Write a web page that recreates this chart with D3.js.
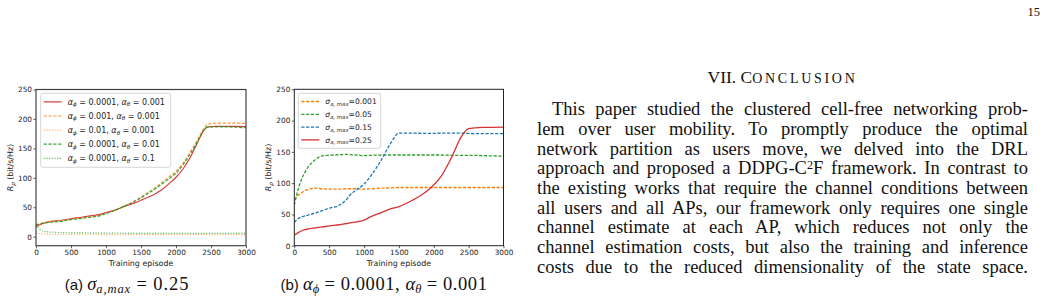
<!DOCTYPE html>
<html><head><meta charset="utf-8">
<script src="https://cdn.jsdelivr.net/npm/d3@7"></script>
<style>
html,body{margin:0;padding:0;background:#fff;}
#page{position:relative;width:1049px;height:305px;overflow:hidden;}
svg{position:absolute;left:0;top:0;}
.col{position:absolute;left:537px;width:491px;font-family:"Liberation Serif",serif;line-height:19.7px;color:#111;}
.col div{text-align:justify;text-align-last:justify;white-space:nowrap;height:19.7px;}
.head{position:absolute;left:537px;width:491px;text-align:center;font-family:"Liberation Serif",serif;color:#111;white-space:nowrap;line-height:1;font-size:17.5px;top:68.8px;}
.head span.sc{font-size:0.8em;}
.pn{position:absolute;right:9px;top:5px;font-family:"Liberation Serif",serif;font-size:12.5px;color:#111;}
.sup{position:relative;top:-0.42em;font-size:0.66em;line-height:1;}
</style></head>
<body><div id="page"></div>
<script>
// ---------------- data ----------------
const xTicks = [0, 500, 1000, 1500, 2000, 2500, 3000];
const yTicks = [0, 50, 100, 150, 200, 250];

// (a) sigma_a,max = 0.25 : episodes and rates
const epA = [0, 100, 200, 350, 500, 650, 800, 900, 1000, 1150, 1250, 1400, 1500, 1600, 1700, 1800, 1900, 2000, 2100, 2200, 2300, 2400, 2450, 2550, 2700, 2850, 3000];
const aRed    = [17, 22.5, 25.6, 27.5, 30.5, 33, 35.8, 37.5, 41, 46, 51, 57, 62, 67, 72.5, 80, 90, 101, 115, 134, 158, 181, 186.5, 187.5, 187.5, 187.5, 187];
const aOrgDsh = [19, 23.5, 25.5, 27, 29.5, 31.5, 34, 36, 40, 46, 51.5, 60, 67.5, 75, 83, 92, 101.5, 111, 125, 143, 163, 184, 191, 192.5, 193, 193, 192.5];
const aGrnDsh = [20, 23, 24.5, 26, 29, 31, 33.5, 35, 39.5, 46, 51, 59.5, 66, 73.5, 81, 89.5, 98.5, 108, 122, 140, 160, 181, 186, 186.5, 186.5, 186, 185];
const aOrgDot = [6, 4.6, 4.2, 4, 3.9, 3.8, 3.7, 3.7, 3.6, 3.6, 3.6, 3.5, 3.5, 3.5, 3.5, 3.5, 3.5, 3.5, 3.5, 3.5, 3.5, 3.5, 3.5, 3.5, 3.5, 3.5, 3.5];
const aGrnDot = [20, 9.5, 8, 7, 6.6, 6.4, 6.2, 6.1, 6, 5.9, 5.8, 5.8, 5.7, 5.7, 5.6, 5.6, 5.6, 5.5, 5.5, 5.5, 5.5, 5.5, 5.5, 5.5, 5.5, 5.5, 5.5];

// (b) alpha_phi = 0.0001, alpha_theta = 0.001
const epB = [0, 50, 100, 150, 200, 300, 400, 500, 650, 750, 800, 900, 1000, 1100, 1250, 1400, 1500, 1700, 1850, 2000, 2100, 2250, 2400, 2500, 2700, 3000];
const b001 = [73, 80, 84, 88, 90, 92, 91, 90.5, 90.5, 91, 91, 91, 90.5, 91, 92, 92.5, 93, 93, 93, 93, 93, 93, 93, 93, 93, 93];
const b005 = [65, 88, 105, 117, 126, 137.5, 143.5, 144.5, 145.5, 146, 145.5, 145, 144, 144.5, 145, 145, 145, 145, 145, 145, 145, 144.5, 144.5, 144.5, 144, 143];
const b015 = [37, 43, 46, 47.5, 49, 52, 56, 60, 65, 74, 81, 90, 98.5, 112, 137.5, 167, 180, 180, 179.5, 179.5, 180, 180, 180, 179.5, 179, 179];
const b025 = [17, 20.5, 23.5, 25.5, 26.8, 28.5, 30, 31.6, 33.5, 35.5, 36.5, 38, 41, 46.5, 53, 59.5, 62.6, 73, 83, 97, 110, 140, 175, 187, 189, 189.5];

const labelsA = [
  ["0.0001", "0.001"], ["0.001", "0.001"], ["0.01", "0.001"], ["0.0001", "0.01"], ["0.0001", "0.1"]
];
const labelsB = ["0.001", "0.05", "0.15", "0.25"];

// ---------------- drawing ----------------
const page = d3.select("#page");
const svg = page.append("svg").attr("width", 1049).attr("height", 305);

const C = {red: "#d62728", orange: "#ff7f0e", green: "#2ca02c", blue: "#1f77b4"};
const tickFont = "'DejaVu Sans', sans-serif";

function subText(t, s, size, shift, italic) {
  t.append("tspan").attr("font-size", size).attr("dy", shift)
    .attr("font-style", italic ? "italic" : null).text(s);
}

function drawPanel(cfg) {
  const x = d3.scaleLinear().domain([0, 3000]).range([cfg.x0, cfg.x1]);
  const y = d3.scaleLinear().domain(cfg.yDom).range([cfg.y1, cfg.y0]);
  const g = svg.append("g");

  const line = d3.line().x(d => x(d[0])).y(d => y(d[1])).curve(d3.curveMonotoneX);
  g.append("defs").append("clipPath").attr("id", cfg.id + "clip")
    .append("rect").attr("x", cfg.x0).attr("y", cfg.y0).attr("width", cfg.x1 - cfg.x0).attr("height", cfg.y1 - cfg.y0);
  const lg = g.append("g").attr("clip-path", `url(#${cfg.id}clip)`);
  cfg.series.forEach(s => {
    lg.append("path").datum(cfg.ep.map((e, i) => [e, s.v[i]]))
      .attr("d", line).attr("fill", "none").attr("stroke", s.c)
      .attr("stroke-width", s.w).attr("stroke-dasharray", s.dash || null)
      .attr("opacity", s.o);
  });

  const ax = g.append("g").attr("transform", `translate(0,${cfg.y1})`)
    .call(d3.axisBottom(x).tickValues(xTicks).tickSize(2.5).tickPadding(1.8).tickFormat(d3.format("d")));
  const ay = g.append("g").attr("transform", `translate(${cfg.x0},0)`)
    .call(d3.axisLeft(y).tickValues(yTicks).tickSize(2.5).tickPadding(1.5).tickFormat(d3.format("d")));
  [ax, ay].forEach(a => {
    a.select(".domain").remove();
    a.selectAll("line").attr("stroke", "#333").attr("stroke-width", 0.8);
    a.selectAll("text").attr("font-family", tickFont).attr("font-size", 7.3).attr("fill", "#222");
  });

  g.append("rect").attr("x", cfg.x0).attr("y", cfg.y0).attr("width", cfg.x1 - cfg.x0).attr("height", cfg.y1 - cfg.y0)
    .attr("fill", "none").attr("stroke", cfg.frame).attr("stroke-width", cfg.frameW);

  g.append("text").attr("x", (cfg.x0 + cfg.x1) / 2).attr("y", cfg.y1 + 20.5)
    .attr("text-anchor", "middle").attr("font-family", tickFont).attr("font-size", 7.9).attr("fill", "#222")
    .text("Training episode");

  const yl = g.append("text").attr("transform", `translate(${cfg.ylx},${(cfg.y0 + cfg.y1) / 2}) rotate(-90)`)
    .attr("text-anchor", "middle").attr("font-family", tickFont).attr("font-size", 7.9).attr("fill", "#222");
  yl.append("tspan").attr("font-style", "italic").text("R");
  subText(yl, "ρ", 5.6, 1.8, true);
  yl.append("tspan").attr("dy", -1.8).text(" (bit/s/Hz)");

  // legend
  const L = cfg.legend;
  g.append("rect").attr("x", L.x).attr("y", L.y).attr("width", L.w).attr("height", L.h)
    .attr("rx", 2).attr("fill", "#fff").attr("fill-opacity", 0.8).attr("stroke", "#ccc").attr("stroke-width", 0.8);
  cfg.series.forEach((s, i) => {
    const yy = L.y + L.first + i * L.step;
    g.append("line").attr("x1", L.x + 3).attr("x2", L.x + 21).attr("y1", yy).attr("y2", yy)
      .attr("stroke", s.c).attr("stroke-width", s.w).attr("stroke-dasharray", s.dash || null).attr("opacity", s.o);
    const t = g.append("text").attr("x", L.x + 27).attr("y", yy + 2.6)
      .attr("font-family", tickFont).attr("font-size", L.fs).attr("fill", "#222");
    cfg.labelFn(t, i);
  });
}

drawPanel({
  id: "a", x0: 36, x1: 246, y0: 89.5, y1: 245.7, yDom: [-15.3, 250], ylx: 13,
  frame: "#444", frameW: 1.2, ep: epA,
  series: [
    {v: aRed, c: C.red, w: 1.2, o: 0.9},
    {v: aOrgDsh, c: C.orange, w: 1.2, dash: "3.2,1.6", o: 0.8},
    {v: aOrgDot, c: C.orange, w: 1.2, dash: "1.1,1.6", o: 0.6},
    {v: aGrnDsh, c: C.green, w: 1.2, dash: "3.2,1.6", o: 0.95},
    {v: aGrnDot, c: C.green, w: 1.2, dash: "1.1,1.6", o: 0.8}
  ],
  legend: {x: 40.7, y: 93.3, w: 130, h: 74, first: 8.6, step: 14.1, fs: 8},
  labelFn: (t, i) => {
    t.append("tspan").attr("font-style", "italic").text("α");
    subText(t, "ϕ", 5.6, 1.8, true);
    t.append("tspan").attr("dy", -1.8).text(" = " + labelsA[i][0] + ", ");
    t.append("tspan").attr("font-style", "italic").text("α");
    subText(t, "θ", 5.6, 1.8, true);
    t.append("tspan").attr("dy", -1.8).text(" = " + labelsA[i][1]);
  }
});

drawPanel({
  id: "b", x0: 294.3, x1: 503.5, y0: 89.3, y1: 245.7, yDom: [0, 250], ylx: 271,
  frame: "#222", frameW: 1, ep: epB,
  series: [
    {v: b001, c: "#ff7a00", w: 1.3, dash: "3.2,1.6", o: 1},
    {v: b005, c: C.green, w: 1.3, dash: "3.2,1.6", o: 1},
    {v: b015, c: C.blue, w: 1.3, dash: "3.2,1.6", o: 1},
    {v: b025, c: C.red, w: 1.3, o: 0.95}
  ],
  legend: {x: 298.3, y: 93.3, w: 82.4, h: 55, first: 8.2, step: 12.8, fs: 7.6},
  labelFn: (t, i) => {
    t.append("tspan").attr("font-style", "italic").text("σ");
    subText(t, "a, max", 5.4, 1.8, true);
    t.append("tspan").attr("dy", -1.8).text("=" + labelsB[i]);
  }
});

// captions
const serif = "'Liberation Serif', serif";
function caption(cx, tag, parts) {
  const t = svg.append("text").attr("x", cx).attr("y", 289.5).attr("text-anchor", "middle")
    .attr("font-size", 15).attr("fill", "#111");
  t.append("tspan").attr("font-family", "'Liberation Sans', sans-serif").text(tag + " ");
  parts.forEach(p => {
    const sp = t.append("tspan").attr("font-family", serif).text(p.s);
    if (p.i) sp.attr("font-style", "italic");
    if (p.sub) sp.attr("font-size", 12.5).attr("dy", 3.4);
    else sp.attr("font-size", 18.5);
    if (p.back) sp.attr("dy", -3.4);
    if (p.ls) sp.attr("letter-spacing", p.ls);
  });
}
caption(127, "(a)", [
  {s: "σ", i: true}, {s: "a,max", i: true, sub: true, ls: 0.9}, {s: " = 0.25", back: true, ls: 0.9}
]);
caption(384, "(b)", [
  {s: "α", i: true}, {s: "ϕ", i: true, sub: true}, {s: " = 0.0001, ", back: true, ls: 0.6},
  {s: "α", i: true}, {s: "θ", i: true, sub: true}, {s: " = 0.001", back: true, ls: 0.6}
]);

// right column text
page.append("div").attr("class", "pn").text("15");
const head = page.append("div").attr("class", "head");
head.append("span").text("VII. C");
const sc = head.append("span").attr("class", "sc").text("ONCLUSION");
const hw = head.selectAll("span").nodes().reduce((a, n) => a + n.getBoundingClientRect().width, 0);
if (hw > 0 && hw < 150) sc.style("letter-spacing", ((150 - hw) / 9) + "px");

const lines = [
  "This paper studied the clustered cell-free networking prob-",
  "lem over user mobility. To promptly produce the optimal",
  "network partition as users move, we delved into the DRL",
  "approach and proposed a DDPG-C<span class=\"sup\">2</span>F framework. In contrast to",
  "the existing works that require the channel conditions between",
  "all users and all APs, our framework only requires one single",
  "channel estimate at each AP, which reduces not only the",
  "channel estimation costs, but also the training and inference",
  "costs due to the reduced dimensionality of the state space."
];
const cv = document.createElement("canvas").getContext("2d");
cv.font = '16px "Liberation Serif"';
let maxW = 0;
lines.forEach((l, i) => {
  const w = cv.measureText(l.replace(/<[^>]+>/g, "")).width + (i === 0 ? 15 : 0);
  maxW = Math.max(maxW, w);
});
const fs = Math.min(18.5, 16 * 489 / maxW);
const col = page.append("div").attr("class", "col")
  .style("font-size", fs + "px").style("top", (110.3 - 9.85 - (fs * 0.14) + 2.5) + "px");
lines.forEach((l, i) => {
  col.append("div").style("text-indent", i === 0 ? "15px" : "0px").html(l);
});
</script>
</body></html>
